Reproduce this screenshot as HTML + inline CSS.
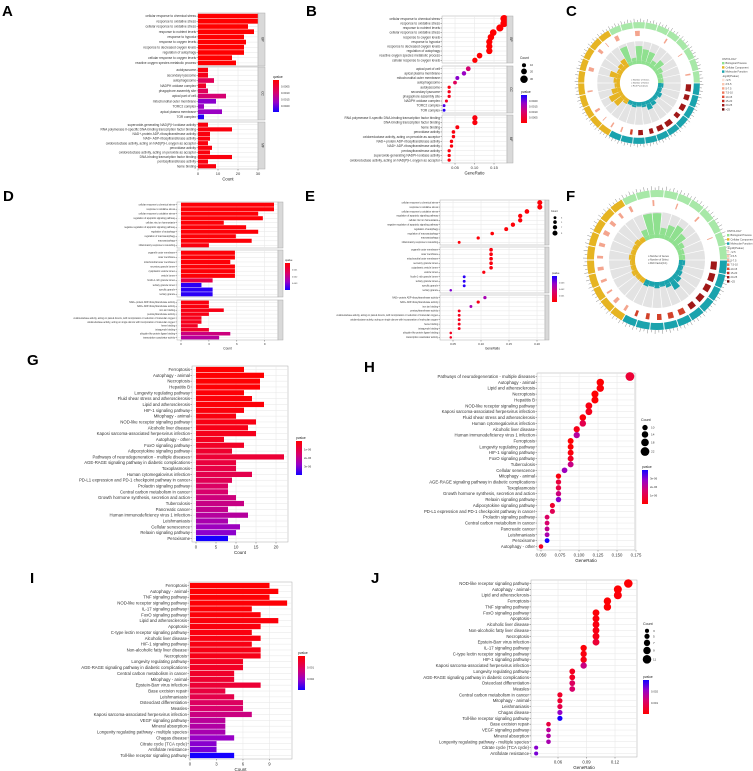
<!DOCTYPE html>
<html><head><meta charset="utf-8"><style>
html,body{margin:0;padding:0;background:#fff}
svg{display:block;font-family:"Liberation Sans",sans-serif}
</style></head><body>
<svg id="fig" width="753" height="771" viewBox="0 0 753 771" xmlns="http://www.w3.org/2000/svg">
<rect x="0" y="0" width="753" height="771" fill="#fff"/>
<defs id="defs"></defs>
<g font-weight="bold" font-size="15" fill="#000">
<text x="2" y="16">A</text>
<text x="306" y="16">B</text>
<text x="566" y="16">C</text>
<text x="3" y="201">D</text>
<text x="305" y="201">E</text>
<text x="566" y="201">F</text>
<text x="27" y="365">G</text>
<text x="364" y="372">H</text>
<text x="30" y="583">I</text>
<text x="371" y="583">J</text>
</g>
</svg>
<script>
// ---------------- DATA ----------------
const aLabels=["cellular response to chemical stress","response to oxidative stress","cellular response to oxidative stress","response to nutrient levels","response to hypoxia","response to oxygen levels","response to decreased oxygen levels","regulation of autophagy","cellular response to oxygen levels","reactive oxygen species metabolic process",
"autolysosome","secondary lysosome","autophagosome","NADPH oxidase complex","phagophore assembly site","apical part of cell","mitochondrial outer membrane","TORC2 complex","apical plasma membrane","TOR complex",
"superoxide-generating NAD(P)H oxidase activity","RNA polymerase II-specific DNA-binding transcription factor binding","NAD+-protein ADP-ribosyltransferase activity","NAD+ ADP-ribosyltransferase activity","oxidoreductase activity, acting on NAD(P)H, oxygen as acceptor","peroxidase activity","oxidoreductase activity, acting on peroxide as acceptor","DNA-binding transcription factor binding","pentosyltransferase activity","heme binding"];
const aCounts=[30,30,25,28,23,24,23,23,17,19, 5,5,8,4,5,14,9,3,12,3, 5,17,6,6,5,7,6,17,5,9];
const aP=[0.00001,0.00001,0.00001,0.00001,0.00001,0.00001,0.00001,0.00001,0.00001,0.00001, 0.0001,0.0002,0.0007,0.0003,0.0007,0.0009,0.0016,0.0015,0.0015,0.0021, 0.0001,0.0001,0.0001,0.0001,0.0001,0.0001,0.0001,0.0001,0.0001,0.0001];
const aTicks=[0,10,20,30];
const aStrips=["BP","CC","MF"];

const bLabels=["cellular response to chemical stress","response to oxidative stress","response to nutrient levels","cellular response to oxidative stress","response to oxygen levels","response to hypoxia","response to decreased oxygen levels","regulation of autophagy","reactive oxygen species metabolic process","cellular response to oxygen levels",
"apical part of cell","apical plasma membrane","mitochondrial outer membrane","autophagosome","autolysosome","secondary lysosome","phagophore assembly site","NADPH oxidase complex","TORC2 complex","TOR complex",
"RNA polymerase II-specific DNA-binding transcription factor binding","DNA-binding transcription factor binding","heme binding","peroxidase activity","oxidoreductase activity, acting on peroxide as acceptor","NAD+-protein ADP-ribosyltransferase activity","NAD+ ADP-ribosyltransferase activity","pentosyltransferase activity","superoxide-generating NADPH oxidase activity","oxidoreductase activity, acting on NAD(P)H, oxygen as acceptor"];
const bRatio=[0.176,0.176,0.165,0.148,0.142,0.138,0.138,0.138,0.113,0.101, 0.084,0.073,0.056,0.050,0.035,0.035,0.035,0.028,0.022,0.022, 0.101,0.101,0.056,0.046,0.046,0.041,0.041,0.035,0.035,0.035];
const bCounts=[30,30,28,25,24,23,23,23,19,17, 14,12,9,8,5,5,5,4,3,3, 17,17,9,7,6,6,6,5,5,5];
const bP=[0.00001,0.00001,0.00001,0.00001,0.00001,0.00001,0.00001,0.00001,0.00001,0.00001, 0.0009,0.0015,0.0016,0.0007,0.0001,0.0002,0.0002,0.0003,0.0019,0.0021, 0.0001,0.0001,0.0001,0.0001,0.0001,0.0001,0.0001,0.0001,0.0001,0.0001];
const bTicks=[0.05,0.10,0.15];

const dLabels=["cellular response to chemical stress","response to oxidative stress","cellular response to oxidative stress","regulation of apoptotic signaling pathway","cellular zinc ion homeostasis","negative regulation of apoptotic signaling pathway","regulation of autophagy","regulation of macroautophagy","macroautophagy","inflammatory response to wounding",
"organelle outer membrane","outer membrane","mitochondrial outer membrane","secretory granule lumen","cytoplasmic vesicle lumen","vesicle lumen","ficolin-1-rich granule lumen","tertiary granule lumen","specific granule","tertiary granule",
"NAD+-protein ADP-ribosyltransferase activity","NAD+ ADP-ribosyltransferase activity","iron ion binding","pentosyltransferase activity","oxidoreductase activity, acting on paired donors, with incorporation or reduction of molecular oxygen","oxidoreductase activity, acting on single donors with incorporation of molecular oxygen","heme binding","tetrapyrrole binding","ubiquitin-like protein ligase binding","transcription coactivator activity"];
const dCounts=[10,10,8.3,8.8,4.6,7,8.3,5.9,7.6,3, 5.8,5.8,5.3,5.8,5.8,5.8,3.4,2.2,3.4,3.4, 3,3,4.6,3,2.2,2.2,1.8,3,5.3,4.1];
const dP=[0.0001,0.0001,0.0001,0.0001,0.0001,0.0001,0.0001,0.0001,0.0001,0.0002, 0.0001,0.0001,0.0001,0.0001,0.0001,0.0001,0.001,0.0038,0.0038,0.0038, 0.0002,0.0002,0.0003,0.0003,0.0004,0.0004,0.0005,0.0006,0.0018,0.0022];
const dTicks=[0,3,6,9];

const eLabels=dLabels.slice();
const eRatio=[0.205,0.205,0.182,0.170,0.170,0.157,0.145,0.120,0.095,0.061, 0.118,0.118,0.118,0.118,0.118,0.105,0.070,0.070,0.070,0.046, 0.107,0.095,0.082,0.061,0.061,0.061,0.061,0.061,0.046,0.046];
const eCounts=[9,9,8,7,7,7,6,5,4,3, 5,5,5,5,5,4,3,3,3,2, 4,4,3,3,3,3,3,3,2,2];
const eP=[0.0001,0.0001,0.0001,0.0001,0.0001,0.0001,0.0001,0.0001,0.0001,0.0001, 0.0002,0.0002,0.0002,0.0002,0.0002,0.0002,0.0038,0.0038,0.0038,0.003, 0.0025,0.0003,0.0025,0.0004,0.0004,0.0004,0.0004,0.0004,0.0005,0.0005];
const eTicks=[0.05,0.10,0.15,0.20];

const gLabels=["Ferroptosis","Autophagy - animal","Necroptosis","Hepatitis B","Longevity regulating pathway","Fluid shear stress and atherosclerosis","Lipid and atherosclerosis","HIF-1 signaling pathway","Mitophagy - animal","NOD-like receptor signaling pathway","Alcoholic liver disease","Kaposi sarcoma-associated herpesvirus infection","Autophagy - other","FoxO signaling pathway","Adipocytokine signaling pathway","Pathways of neurodegeneration - multiple diseases","AGE-RAGE signaling pathway in diabetic complications","Toxoplasmosis","Human cytomegalovirus infection","PD-L1 expression and PD-1 checkpoint pathway in cancer","Prolactin signaling pathway","Central carbon metabolism in cancer","Growth hormone synthesis, secretion and action","Tuberculosis","Pancreatic cancer","Human immunodeficiency virus 1 infection","Leishmaniasis","Cellular senescence","Relaxin signaling pathway","Peroxisome"];
const gCounts=[12,17,16,16,12,14,17,12,10,15,13,15,7,12,9,22,10,10,14,9,8,8,10,12,8,13,8,11,10,8];
const gP=[1e-8,2e-8,3e-8,5e-8,8e-8,1e-7,1e-7,1.5e-7,2e-7,2.5e-7,3e-7,3.5e-7,4e-7,5e-7,6e-7,7e-7,8e-7,9e-7,1e-6,1.1e-6,1.3e-6,1.4e-6,1.6e-6,1.7e-6,1.8e-6,2e-6,2.2e-6,2.4e-6,2.6e-6,3.6e-6];
const gTicks=[0,5,10,15,20];

const hLabels=["Pathways of neurodegeneration - multiple diseases","Autophagy - animal","Lipid and atherosclerosis","Necroptosis","Hepatitis B","NOD-like receptor signaling pathway","Kaposi sarcoma-associated herpesvirus infection","Fluid shear stress and atherosclerosis","Human cytomegalovirus infection","Alcoholic liver disease","Human immunodeficiency virus 1 infection","Ferroptosis","Longevity regulating pathway","HIF-1 signaling pathway","FoxO signaling pathway","Tuberculosis","Cellular senescence","Mitophagy - animal","AGE-RAGE signaling pathway in diabetic complications","Toxoplasmosis","Growth hormone synthesis, secretion and action","Relaxin signaling pathway","Adipocytokine signaling pathway","PD-L1 expression and PD-1 checkpoint pathway in cancer","Prolactin signaling pathway","Central carbon metabolism in cancer","Pancreatic cancer","Leishmaniasis","Peroxisome","Autophagy - other"];
const hRatio=[0.167,0.128,0.128,0.121,0.121,0.113,0.113,0.105,0.105,0.097,0.097,0.089,0.089,0.089,0.089,0.089,0.081,0.073,0.073,0.073,0.073,0.073,0.065,0.065,0.058,0.058,0.058,0.058,0.058,0.050];
const hTicks=[0.050,0.075,0.100,0.125,0.150,0.175];
const hSizeLegend=[10,14,18,22];

const iLabels=["Ferroptosis","Autophagy - animal","TNF signaling pathway","NOD-like receptor signaling pathway","IL-17 signaling pathway","FoxO signaling pathway","Lipid and atherosclerosis","Apoptosis","C-type lectin receptor signaling pathway","Alcoholic liver disease","HIF-1 signaling pathway","Non-alcoholic fatty liver disease","Necroptosis","Longevity regulating pathway","AGE-RAGE signaling pathway in diabetic complications","Central carbon metabolism in cancer","Mitophagy - animal","Epstein-Barr virus infection","Base excision repair","Leishmaniasis","Osteoclast differentiation","Measles","Kaposi sarcoma-associated herpesvirus infection","VEGF signaling pathway","Mineral absorption","Longevity regulating pathway - multiple species","Chagas disease","Citrate cycle (TCA cycle)","Antifolate resistance","Toll-like receptor signaling pathway"];
const iCounts=[9,10,9,11,7,8,10,8,7,8,7,8,8,6,6,5,5,8,4,5,6,6,7,4,4,4,5,3,3,5];
const iP=[0.00002,0.00003,0.00004,0.00005,0.00006,0.00008,0.0001,0.00012,0.00014,0.00016,0.00018,0.0002,0.00022,0.0003,0.00035,0.0004,0.00045,0.0005,0.0006,0.0007,0.0009,0.001,0.0012,0.0014,0.0015,0.0016,0.0018,0.0019,0.002,0.0026];
const iTicks=[0,3,6,9];

const jLabels=["NOD-like receptor signaling pathway","Autophagy - animal","Lipid and atherosclerosis","Ferroptosis","TNF signaling pathway","FoxO signaling pathway","Apoptosis","Alcoholic liver disease","Non-alcoholic fatty liver disease","Necroptosis","Epstein-Barr virus infection","IL-17 signaling pathway","C-type lectin receptor signaling pathway","HIF-1 signaling pathway","Kaposi sarcoma-associated herpesvirus infection","Longevity regulating pathway","AGE-RAGE signaling pathway in diabetic complications","Osteoclast differentiation","Measles","Central carbon metabolism in cancer","Mitophagy - animal","Leishmaniasis","Chagas disease","Toll-like receptor signaling pathway","Base excision repair","VEGF signaling pathway","Mineral absorption","Longevity regulating pathway - multiple species","Citrate cycle (TCA cycle)","Antifolate resistance"];
const jRatio=[0.134,0.123,0.123,0.112,0.112,0.100,0.100,0.100,0.100,0.100,0.100,0.087,0.087,0.087,0.087,0.075,0.075,0.075,0.075,0.062,0.062,0.062,0.062,0.062,0.050,0.050,0.050,0.050,0.037,0.037];
const jTicks=[0.06,0.09,0.12];
const jSizeLegend=[3,5,7,9,11];

// circos data (30 terms: 10 BP, 10 CC, 10 MF)
const cGroups=[0,0,0,0,0,0,0,0,0,0,1,1,1,1,1,1,1,1,1,1,2,2,2,2,2,2,2,2,2,2];
const cInner=[0.85,0.15,0.75,0.6,0.55,0.2,0.45,0.2,0.1,0.1, 0.1,0.05,0.15,0.05,0.2,0.3,0.1,0.05,0.1,0.05, 0.1,0.45,0.55,0.3,0.1,0.15,0.4,0.1,0.2,0.3];
const cRank=[0.5,0,0.6,0,0,0.2,0,0.1,0,0.2, 0.9,0.7,0.8,0.6,0.9,0.8,0.5,0.6,0.3,0.2, 0.2,0.1,0.3,0,0.2,0,0.5,0,0.4,0.1];
const cRankP=[0.3,0,0.3,0,0,0.2,0,0.2,0,0.2, 1,1,1,0.9,1,0.9,0.9,0.8,0.6,0.5, 0.3,0.2,0.3,0,0.3,0,0.3,0,0.3,0.2];
const fGroups=cGroups.slice();
const fInner=[0.3,0.95,0.95,0.3,0.5,0.65,0.45,0.2,0.1,0.1, 0.1,0.05,0.1,0.2,0.4,0.15,0.05,0.1,0.05,0.1, 0.05,0.05,0.1,0.05,0.05,0.1,0.05,0.05,0.1,0.05];
const fRank=[0.3,0,0.2,0,0.15,0,0.2,0,0.1,0, 0.9,0.9,0.8,0.8,0.7,0.7,0.6,0.5,0.4,0.3, 0.3,0.4,0.2,0.3,0.4,0.3,0.4,0.5,0.4,0.3];
const fRankP=[0.3,0,0.3,0,0.3,0,0.3,0,0.2,0, 0.9,0.9,0.85,0.8,0.8,0.75,0.7,0.7,0.6,0.6, 0.35,0.35,0.35,0.4,0.4,0.35,0.35,0.4,0.35,0.35];

// ---------------- HELPERS ----------------
const NS='http://www.w3.org/2000/svg';
const svg=document.getElementById('fig');
const defs=document.getElementById('defs');
function mk(tag,attrs,parent){const e=document.createElementNS(NS,tag);for(const k in attrs)e.setAttribute(k,attrs[k]);(parent||svg).appendChild(e);return e;}
const STOPS=[[0,[255,0,0]],[0.4,[215,0,110]],[0.7,[150,0,200]],[1,[20,0,255]]];
function col(t){t=Math.max(0,Math.min(1,t));for(let i=1;i<STOPS.length;i++){if(t<=STOPS[i][0]){const a=STOPS[i-1],b=STOPS[i];const u=(t-a[0])/(b[0]-a[0]);const c=a[1].map((v,k)=>Math.round(v+(b[1][k]-v)*u));return `rgb(${c[0]},${c[1]},${c[2]})`;}}return 'rgb(20,0,255)';}
let gradId=0;
function colorbar(parent,x,y,w,h,redTop,title,labels,fs){
  const id='grad'+(gradId++);
  const lg=mk('linearGradient',{id:id,x1:0,y1:0,x2:0,y2:1},defs);
  for(let i=0;i<=10;i++){const s=mk('stop',{offset:i/10,'stop-color':col(redTop?i/10:1-i/10)},lg);}
  const tt=mk('text',{x:x,y:y-2,'font-size':fs,fill:'#222'},parent);
  
  
  tt.textContent=title;
  const r=mk('rect',{x:x,y:y,width:w,height:h,fill:`url(#${id})`},parent);
  
  
  labels.forEach((l,i)=>{
    const ly=y+h*(i+1)/(labels.length+1);
    const t=mk('text',{x:x+w+2,y:ly+fs*0.35,'font-size':fs*0.85,fill:'#333'},parent);
    
    
    t.textContent=l;
  });
}
function sizeLegend(parent,x,y,title,vals,rf,gap,fs){
  const tt=mk('text',{x:x,y:y,'font-size':fs,fill:'#222'},parent);
  
  
  tt.textContent=title;
  let cy=y+3;
  vals.forEach(v=>{const r=rf(v);cy+=r+gap;
    const c=mk('circle',{cx:x+4,cy:cy,r:r,fill:'#000'},parent);
    
    
    const t=mk('text',{x:x+10,y:cy+fs*0.3,'font-size':fs*0.85,fill:'#333'},parent);
    
    
    t.textContent=v;cy+=r;});
}
// generic enrichment panel
function panel(c){
  const g=mk('g',{});
  
  
  const sx=v=>c.px0+(v-c.v0)*c.k;
  const pt=p=>(p-c.pmin)/(c.pmax-c.pmin);
  let idx=0;
  c.facets.forEach((f,fi)=>{
    const y0=f[0],y1=f[1],n=f[2];
    const bg=mk('rect',{x:c.x0,y:y0,width:c.x1-c.x0,height:y1-y0,fill:'#fff',stroke:'#aaa','stroke-width':0.5},g);
    
    
    c.ticks.forEach(t=>{
      const gl=mk('line',{x1:sx(t),x2:sx(t),y1:y0,y2:y1,stroke:'#e6e6e6','stroke-width':0.5},g);
      
      
    });
    const step=(y1-y0)/(n+0.2);
    for(let i=0;i<n;i++,idx++){
      const yc=y0+(0.6+i)*step;
      const hl=mk('line',{x1:c.x0,x2:c.x1,y1:yc,y2:yc,stroke:'#e6e6e6','stroke-width':0.5},g);
      
      
      const tk=mk('line',{x1:c.x0-1.5,x2:c.x0,y1:yc,y2:yc,stroke:'#444','stroke-width':0.4},g);
      
      
      const lb=mk('text',{x:c.x0-2,y:yc+c.fs*0.35,'font-size':c.fs,'text-anchor':'end',fill:'#333'},g);
      
      
      lb.textContent=c.labels[idx];
      const color=col(pt(c.pvals[idx]));
      if(c.type==='bar'){
        const b=mk('rect',{x:sx(0),y:yc-step*0.45,width:Math.max(0,sx(c.values[idx])-sx(0)),height:step*0.9,fill:color},g);
        
        
      }else{
        const d=mk('circle',{cx:sx(c.values[idx]),cy:yc,r:c.rf(c.counts[idx]),fill:color},g);
        
        
      }
    }
    if(c.strips){
      const s=mk('rect',{x:c.x1,y:y0,width:c.sw,height:y1-y0,fill:'#d9d9d9',stroke:'#aaa','stroke-width':0.5},g);
      
      
      const st=mk('text',{x:c.x1+c.sw/2,y:(y0+y1)/2,'font-size':c.fs,'text-anchor':'middle',fill:'#333',transform:`rotate(90 ${c.x1+c.sw/2} ${(y0+y1)/2})`},g);
      
      
      st.textContent=c.strips[fi];
    }
  });
  const yb=c.facets[c.facets.length-1][1];
  c.ticks.forEach((t,i)=>{
    const tk=mk('line',{x1:sx(t),x2:sx(t),y1:yb,y2:yb+1.5,stroke:'#444','stroke-width':0.4},g);
    
    
    const tl=mk('text',{x:sx(t),y:yb+2+c.afs,'font-size':c.afs,'text-anchor':'middle',fill:'#333'},g);
    
    
    tl.textContent=c.tickLabels[i];
  });
  const xt=mk('text',{x:(c.x0+c.x1)/2,y:yb+3.5+c.afs*2,'font-size':c.afs*1.05,'text-anchor':'middle',fill:'#222'},g);
  
  
  xt.textContent=c.xtitle;
  return g;
}

// ---------------- PANELS ----------------
const gA=panel({name:'panel-a-go-barplot',type:'bar',x0:198,x1:258,px0:198,v0:0,k:2,facets:[[13,66,10],[67,120,10],[122,169,10]],labels:aLabels,values:aCounts,pvals:aP,pmin:0,pmax:0.0022,ticks:aTicks,tickLabels:aTicks.map(String),xtitle:'Count',fs:3.2,afs:4,strips:aStrips,sw:7});
colorbar(gA,273,80,6,32,true,'qvalue',['0.0005','0.0010','0.0015','0.0020'],3.3);

const gB=panel({name:'panel-b-go-dotplot',type:'dot',x0:442,x1:507,px0:455,v0:0.05,k:390,facets:[[16,63,10],[66,113,10],[115,163,10]],labels:bLabels,values:bRatio,counts:bCounts,rf:v=>1.2+v*0.085,pvals:bP,pmin:0,pmax:0.0022,ticks:bTicks,tickLabels:['0.05','0.10','0.15'],xtitle:'GeneRatio',fs:3.2,afs:4,strips:aStrips,sw:6});
sizeLegend(gB,520,59,'Count',[10,20,30],v=>1.2+v*0.085,1.2,3.3);
colorbar(gB,521,95,6,28,false,'pvalue',['0.0020','0.0015','0.0010','0.0005'],3.3);

const gD=panel({name:'panel-d-go-barplot',type:'bar',x0:177,x1:278,px0:181,v0:0,k:9.3,facets:[[202,248,10],[250,297,10],[300,340,10]],labels:dLabels,values:dCounts,pvals:dP,pmin:0,pmax:0.004,ticks:dTicks,tickLabels:dTicks.map(String),xtitle:'Count',fs:2.3,afs:3,strips:['','',''],sw:5});
colorbar(gD,285,263,5,27,true,'qvalue',['0.001','0.002','0.003'],2.5);

const gE=panel({name:'panel-e-go-dotplot',type:'dot',x0:440,x1:545,px0:453,v0:0.05,k:560,facets:[[200,245,10],[247,293,10],[295,340,10]],labels:eLabels,values:eRatio,counts:eCounts,rf:v=>0.9+v*0.18,pvals:eP,pmin:0,pmax:0.004,ticks:eTicks,tickLabels:['0.05','0.10','0.15','0.20'],xtitle:'GeneRatio',fs:2.3,afs:3,strips:['','',''],sw:4});
sizeLegend(gE,551,212,'Count',[3,5,7,9],v=>0.9+v*0.18,1.2,2.5);
colorbar(gE,552,276,5,26,false,'pvalue',['0.003','0.002','0.001'],2.5);

const gG=panel({name:'panel-g-kegg-barplot',type:'bar',x0:192,x1:288,px0:196,v0:0,k:4,facets:[[366,542,30]],labels:gLabels,values:gCounts,pvals:gP,pmin:0,pmax:3.6e-6,ticks:gTicks,tickLabels:gTicks.map(String),xtitle:'Count',fs:4.3,afs:4.3});
colorbar(gG,296,441,6,34,true,'pvalue',['1e-06','2e-06','3e-06'],3.3);

const gH=panel({name:'panel-h-kegg-dotplot',type:'dot',x0:537,x1:635,px0:541,v0:0.05,k:760,facets:[[373,550,30]],labels:hLabels,values:hRatio,counts:hLabels.map(l=>gCounts[gLabels.indexOf(l)]),rf:v=>1.3+v*0.14,pvals:hLabels.map(l=>gP[gLabels.indexOf(l)]),pmin:0,pmax:3.6e-6,ticks:hTicks,tickLabels:['0.050','0.075','0.100','0.125','0.150','0.175'],xtitle:'GeneRatio',fs:4.3,afs:4.3});
sizeLegend(gH,641,421,'Count',hSizeLegend,v=>1.3+v*0.14,0.9,3.6);
colorbar(gH,642,470,6,34,false,'pvalue',['3e-06','2e-06','1e-06'],3.3);

const gI=panel({name:'panel-i-kegg-barplot',type:'bar',x0:189,x1:292,px0:190,v0:0,k:8.83,facets:[[582,759,30]],labels:iLabels,values:iCounts,pvals:iP,pmin:0,pmax:0.0026,ticks:iTicks,tickLabels:iTicks.map(String),xtitle:'Count',fs:4.3,afs:4.3});
colorbar(gI,298,656,7,34,true,'pvalue',['0.001','0.002'],3.3);

const gJ=panel({name:'panel-j-kegg-dotplot',type:'dot',x0:531,x1:637,px0:558,v0:0.06,k:950,facets:[[580,757,30]],labels:jLabels,values:jRatio,counts:jLabels.map(l=>iCounts[iLabels.indexOf(l)]),rf:v=>1.2+v*0.28,pvals:jLabels.map(l=>iP[iLabels.indexOf(l)]),pmin:0,pmax:0.0026,ticks:jTicks,tickLabels:['0.06','0.09','0.12'],xtitle:'GeneRatio',fs:4.3,afs:4.3});
sizeLegend(gJ,643,625,'Count',jSizeLegend,v=>1.2+v*0.28,0.8,3.6);
colorbar(gJ,643,680,6,34,false,'pvalue',['0.002','0.001'],3.3);

// ---------------- CIRCOS ----------------
const GCOL=['#8fe08f','#1aa3ad','#e6b422'];
const RINGCOL=['#a8e8a8','#1aa3ad','#e6b422'];
function P(cx,cy,r,a){const t=a*Math.PI/180;return [cx+r*Math.sin(t),cy-r*Math.cos(t)];}
function arc(cx,cy,r0,r1,a0,a1){const L=(a1-a0)>180?1:0;const p1=P(cx,cy,r1,a0),p2=P(cx,cy,r1,a1),p3=P(cx,cy,r0,a1),p4=P(cx,cy,r0,a0);
return `M${p1[0].toFixed(2)},${p1[1].toFixed(2)}A${r1},${r1} 0 ${L} 1 ${p2[0].toFixed(2)},${p2[1].toFixed(2)}L${p3[0].toFixed(2)},${p3[1].toFixed(2)}A${r0},${r0} 0 ${L} 0 ${p4[0].toFixed(2)},${p4[1].toFixed(2)}Z`;}
function circos(name,cx,cy,s,groups,inner,rank,rankP,lx,ly){
  const g=mk('g',{});
  
  
  const n=groups.length,w=360/n,start=-30;
  for(let i=0;i<n;i++){
    const a0=start+i*w,a1=a0+w,gp=groups[i];
    // outer ring
    const o=mk('path',{d:arc(cx,cy,63*s,70*s,a0+0.4,a1-0.4),fill:RINGCOL[gp]},g);
    
    
    for(let k=0;k<4;k++){const a=a0+w*(k+0.5)/4;const p1=P(cx,cy,70*s,a),p2=P(cx,cy,(k%2?72.5:74)*s,a);
      const tk=mk('line',{x1:p1[0],y1:p1[1],x2:p2[0],y2:p2[1],stroke:'#555','stroke-width':0.35},g);
      
      }
    // rank bars
    if(rank[i]>0){
      const rb=mk('path',{d:arc(cx,cy,54*s,60*s,a0+1.5,a0+1.5+(w-3)*rank[i]),fill:rankP[i]>0.75?'#a01818':(rankP[i]>0.5?'#d2412a':'#f4a58e')},g);
      
      
    }
    // grey sector
    const gs=mk('path',{d:arc(cx,cy,26*s,48*s,a0+0.5,a1-0.5),fill:'#e3e3e3'},g);
    
    
    const ib=mk('path',{d:arc(cx,cy,26*s,(26+22*inner[i])*s,a0+0.5,a1-0.5),fill:GCOL[gp]},g);
    
    
    const ir=mk('path',{d:arc(cx,cy,22*s,26*s,a0,a1),fill:GCOL[gp]},g);
    
    
  }
  ['o Number of Genes','o Number of Select','o Rich Factor(0-1)'].forEach((t,i)=>{
    const ct=mk('text',{x:cx-9*s,y:cy-3*s+i*3.4*s,'font-size':2.4*s,fill:'#444'},g);
    
    
    ct.textContent=t;});
  const lines=[['ONTOLOGY','#333'],['Biological Process',GCOL[0]],['Cellular Component',GCOL[2]],['Molecular Function',GCOL[1]],['-log10(Pvalue)','#333'],['<2.5','#fde0d5'],['2.5-5','#fbc6b0'],['5-7.5','#f7a68b'],['7.5-10','#ef7a5c'],['10-15','#de4a35'],['15-20','#c22a1f'],['20-25','#a01818'],['>25','#6e0c0c']];
  lines.forEach((l,i)=>{
    const yy=ly+i*4.2;
    if(i!==0&&i!==4){const sq=mk('rect',{x:lx,y:yy-2.2,width:2.4,height:2.4,fill:l[1]},g);
      
      }
    const t=mk('text',{x:lx+(i===0||i===4?0:3.5),y:yy,'font-size':2.6,fill:'#444'},g);
    
    
    t.textContent=l[0];
  });
}
circos('panel-c-circos',639,83,0.87,cGroups,cInner,cRank,cRankP,722,60);
circos('panel-f-circos',657,260,1,fGroups,fInner,fRank,fRankP,727,232);
</script>
</body></html>
